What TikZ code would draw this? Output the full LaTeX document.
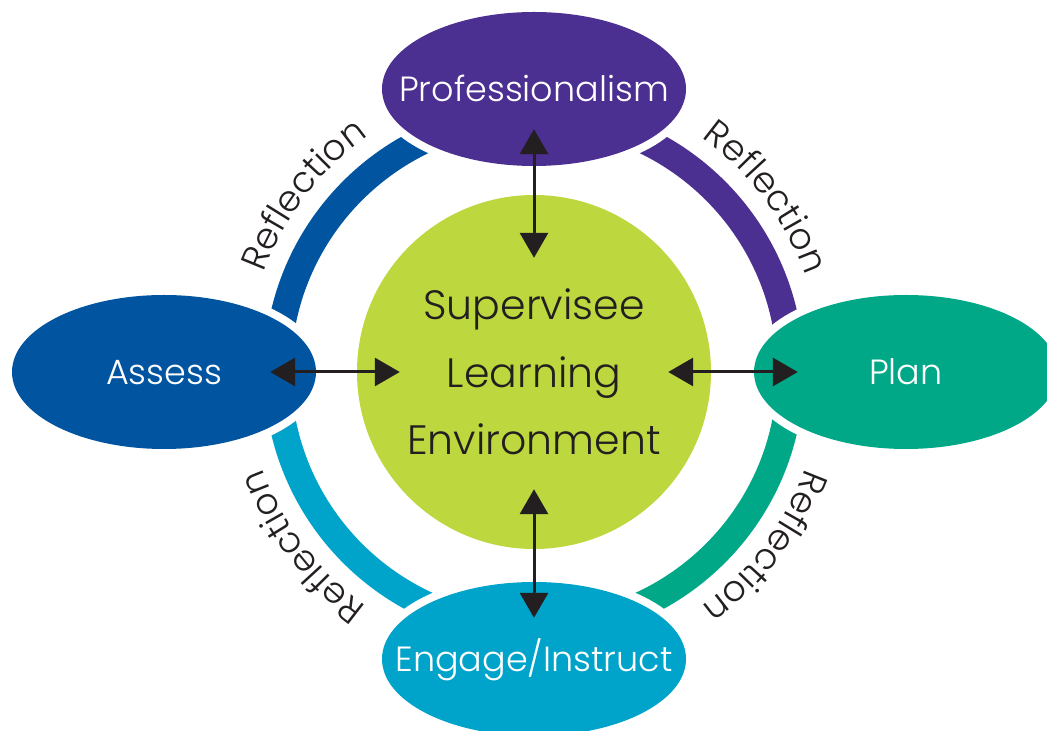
\documentclass[tikz,border=0pt]{standalone}
\usepackage{fontspec}
\IfFontExistsTF{Poppins Light}{\setmainfont{Poppins Light}}{\setmainfont{Poppins}}
\usetikzlibrary{shapes.geometric,arrows.meta,decorations.text,calc}
\definecolor{cpurple}{HTML}{4B2F91}
\definecolor{cblue}{HTML}{0054A0}
\definecolor{cgreen}{HTML}{00A887}
\definecolor{ccyan}{HTML}{00A3C9}
\definecolor{clime}{HTML}{BDD73E}
\definecolor{ink}{HTML}{231F20}
\newcommand\lblfont{\fontsize{35pt}{35pt}\selectfont}
\newcommand\ctrfont{\fontsize{41pt}{67.5pt}\selectfont}
\newcommand\reffont{\fontsize{36pt}{36pt}\selectfont}
\newcommand\zw[1]{\makebox[0pt]{#1}}
\tikzset{
  ringarc/.style={line width=27pt, line cap=butt},
  oval/.style={ellipse, minimum width=304pt, minimum height=154pt, inner sep=0pt,
    preaction={draw=white, line width=16pt}, text=white, font=\lblfont,
    text height=26pt, text depth=0pt},
  link/.style={line width=3pt, draw=ink, {Triangle[length=25pt,width=28pt]}-{Triangle[length=25pt,width=28pt]}},
  refl/.style={decorate, decoration={text along path, text={|\reffont|Reflection}, text align=center, text color=ink}}
}
\begin{document}
\begin{tikzpicture}[x=1pt,y=1pt]
\useasboundingbox (0,0) rectangle (1047,731);
\coordinate (C) at (534,359);
% ring arcs
\draw[ringarc, cblue]   ($(C)+(93:256.5)$)  arc[start angle=93,  end angle=177, radius=256.5];
\draw[ringarc, cpurple] ($(C)+(3:256.5)$)   arc[start angle=3,   end angle=87,  radius=256.5];
\draw[ringarc, cgreen]  ($(C)+(-87:256.5)$) arc[start angle=-87, end angle=-3,  radius=256.5];
\draw[ringarc, ccyan]   ($(C)+(183:256.5)$) arc[start angle=183, end angle=267, radius=256.5];
% ellipses
\node[oval, fill=cpurple] (prof)   at (534,642) {\zw{Professionalism}};
\node[oval, fill=cblue]   (assess) at (164,359) {\zw{Assess}};
\node[oval, fill=cgreen]  (plan)   at (906,359) {\zw{Plan}};
\node[oval, fill=ccyan]   (engage) at (534,72)  {\zw{Engage/Instruct}};
% centre
\node[circle, minimum size=354pt, inner sep=0pt, fill=clime, text=ink, font=\ctrfont, align=center] (env) at (C) {Supervisee\\Learning\\Environment};
% arrows
\draw[link, shorten <=-37pt, shorten >=-63pt] (prof) -- (env);
\draw[link, shorten <=-46pt, shorten >=-43pt] (assess) -- (env);
\draw[link, shorten <=-43pt, shorten >=-44pt] (env) -- (plan);
\draw[link, shorten <=-60pt, shorten >=-36pt] (env) -- (engage);
% reflection labels
\path[refl] ($(C)+(187.5:288)$) arc[start angle=187.5, end angle=97.5, radius=288];
\path[refl] ($(C)+(82:288)$) arc[start angle=82, end angle=-8, radius=288];
\path[refl] ($(C)+(8:288)$) arc[start angle=8, end angle=-82, radius=288];
\path[refl] ($(C)+(262:288)$) arc[start angle=262, end angle=172, radius=288];
\end{tikzpicture}
\end{document}
